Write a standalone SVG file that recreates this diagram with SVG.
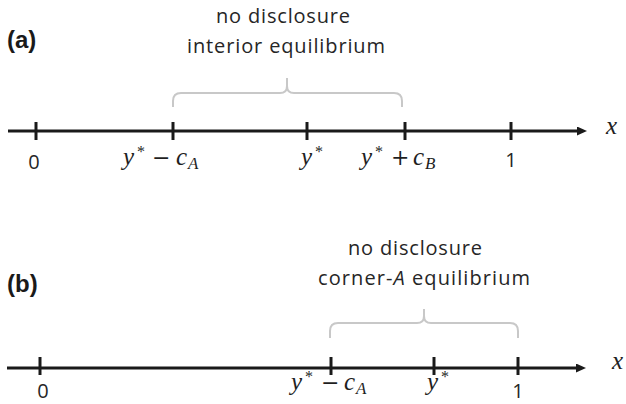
<svg xmlns="http://www.w3.org/2000/svg" width="626" height="404" viewBox="0 0 626 404">
<style>
.axis{stroke:#1a1a1a;stroke-width:3;fill:none}
.tick{stroke:#1a1a1a;stroke-width:3}
.brace{stroke:#c8c8c8;stroke-width:2;fill:none}
.panel{font-family:"Liberation Sans",Arial,sans-serif;font-weight:bold;font-size:24px;fill:#1a1a1a}
.cap{font-family:"Open Sans","Noto Sans",sans-serif;font-size:20px;fill:#262626}
.num{font-family:"Open Sans","Noto Sans",sans-serif;font-size:20px;fill:#262626;text-anchor:middle}
.m{font-family:"Liberation Serif","Times New Roman",serif;font-style:italic;font-size:25px;fill:#1f1f1f}
.sup{font-family:"Liberation Serif","Times New Roman",serif;font-style:normal;font-size:16px;fill:#1f1f1f}
.sub{font-family:"Liberation Serif","Times New Roman",serif;font-style:italic;font-size:17px;fill:#1f1f1f}
.op{font-family:"DejaVu Serif",serif;font-style:normal;font-size:22px;fill:#1f1f1f}
</style>
<defs>
<marker id="arr" markerUnits="userSpaceOnUse" markerWidth="10" markerHeight="9" refX="1" refY="4.5" orient="auto">
<path d="M0,0 L10,4.5 L0,9 z" fill="#1a1a1a"/>
</marker>
</defs>

<g id="connectors">
<line class="axis" x1="8" y1="131" x2="578" y2="131" marker-end="url(#arr)"/>
<line class="axis" x1="7" y1="368" x2="577" y2="368" marker-end="url(#arr)"/>
</g>

<!-- Panel (a) -->
<g id="label-a"><text class="panel" x="7" y="48">(a)</text></g>
<g id="caption-a">
<text class="cap" x="283" y="23" text-anchor="middle" textLength="134">no disclosure</text>
<text class="cap" x="286" y="53" text-anchor="middle" textLength="198">interior equilibrium</text>
</g>
<g id="brace-a">
<path class="brace" d="M173,107 L173,101 Q173,93 181,93 L280,93 Q287,93 287,86 L287,78 M287,78 L287,86 Q287,93 294,93 L394,93 Q402,93 402,101 L402,107"/>
</g>
<g id="a-tick-0"><line class="tick" x1="36" y1="122" x2="36" y2="140"/><text class="num" x="34" y="169">0</text></g>
<g id="a-tick-ystar-minus-cA"><line class="tick" x1="173" y1="122" x2="173" y2="140"/>
<text y="165"><tspan class="m" x="123">y</tspan><tspan class="sup" x="137" y="157">*</tspan><tspan class="op" x="152" y="165">−</tspan><tspan class="m" x="176" y="165">c</tspan><tspan class="sub" x="188" y="169">A</tspan></text></g>
<g id="a-tick-ystar"><line class="tick" x1="307" y1="122" x2="307" y2="140"/>
<text y="165"><tspan class="m" x="301">y</tspan><tspan class="sup" x="315" y="157">*</tspan></text></g>
<g id="a-tick-ystar-plus-cB"><line class="tick" x1="405" y1="122" x2="405" y2="140"/>
<text y="165"><tspan class="m" x="361">y</tspan><tspan class="sup" x="375" y="157">*</tspan><tspan class="op" x="391" y="165">+</tspan><tspan class="m" x="413" y="165">c</tspan><tspan class="sub" x="425" y="169">B</tspan></text></g>
<g id="a-tick-1"><line class="tick" x1="511" y1="122" x2="511" y2="140"/><text class="num" x="511" y="167">1</text></g>
<g id="a-x-label"><text class="m" x="606" y="134" font-size="26">x</text></g>

<!-- Panel (b) -->
<g id="label-b"><text class="panel" x="7" y="292">(b)</text></g>
<g id="caption-b">
<text class="cap" x="415" y="255" text-anchor="middle" textLength="134">no disclosure</text>
<text class="cap" x="424" y="285" text-anchor="middle" textLength="212">corner-<tspan font-style="italic">A</tspan> equilibrium</text>
</g>
<g id="brace-b">
<path class="brace" d="M330,338 L330,331 Q330,323 338,323 L417,323 Q424,323 424,316 L424,309 M424,309 L424,316 Q424,323 431,323 L510,323 Q518,323 518,331 L518,338"/>
</g>
<g id="b-tick-0"><line class="tick" x1="40" y1="357" x2="40" y2="375"/><text class="num" x="43" y="398">0</text></g>
<g id="b-tick-ystar-minus-cA"><line class="tick" x1="331" y1="357" x2="331" y2="375"/>
<text y="390"><tspan class="m" x="291">y</tspan><tspan class="sup" x="305" y="382">*</tspan><tspan class="op" x="321" y="390">−</tspan><tspan class="m" x="344" y="390">c</tspan><tspan class="sub" x="356" y="394">A</tspan></text></g>
<g id="b-tick-ystar"><line class="tick" x1="434" y1="357" x2="434" y2="375"/>
<text y="390"><tspan class="m" x="427">y</tspan><tspan class="sup" x="441" y="382">*</tspan></text></g>
<g id="b-tick-1"><line class="tick" x1="518" y1="357" x2="518" y2="375"/><text class="num" x="518" y="398">1</text></g>
<g id="b-x-label"><text class="m" x="612" y="369" font-size="26">x</text></g>
</svg>
